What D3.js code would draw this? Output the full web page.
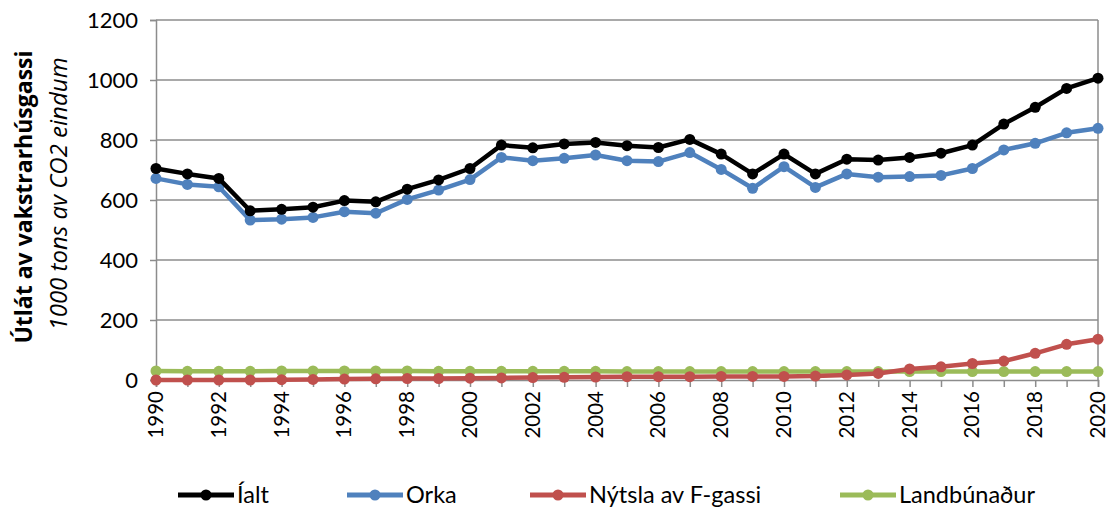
<!DOCTYPE html>
<html>
<head>
<meta charset="utf-8">
<script src="https://cdn.jsdelivr.net/npm/d3@7"></script>
<style>
  body { margin: 0; background: #fff; }
  svg { display: block; font-family: Lato, "Open Sans", sans-serif; }
</style>
</head>
<body>
<svg id="chart" width="1110" height="510"></svg>
<script>
// data
const years = d3.range(1990, 2021);
const ialt = [705, 687, 672, 564, 569, 576, 598, 594, 636, 667, 705, 783, 774, 787, 792, 781, 775, 802, 753, 687, 753, 687, 736, 733, 742, 756, 783, 853, 909, 972, 1006];
const orka = [672, 652, 644, 533, 536, 542, 561, 556, 602, 633, 668, 742, 731, 739, 750, 731, 728, 758, 702, 639, 711, 642, 687, 676, 678, 682, 705, 767, 789, 824, 839];
const fgas = [0, 0, 0, 0, 1, 2, 3, 4, 5, 5, 6, 7, 8, 9, 10, 11, 11, 11, 12, 12, 12, 13, 17, 22, 37, 44, 55, 63, 89, 119, 136];
const landb = [30, 29, 29, 29, 30, 30, 30, 30, 30, 29, 29, 29, 29, 29, 29, 28, 28, 28, 28, 28, 28, 28, 28, 28, 28, 28, 28, 28, 28, 28, 28];
const yTicks = [0, 200, 400, 600, 800, 1000, 1200];

const series = [
  {name: "Íalt", values: ialt, color: "#000000"},
  {name: "Orka", values: orka, color: "#4F81BD"},
  {name: "Nýtsla av F-gassi", values: fgas, color: "#C0504D"},
  {name: "Landbúnaður", values: landb, color: "#9BBB59"}
];

const svg = d3.select("#chart");
const m = {left: 156, right: 1098, top: 20, bottom: 380};

const x = d3.scaleLinear().domain([1990, 2020]).range([m.left, m.right]);
const y = d3.scaleLinear().domain([0, 1200]).range([m.bottom, m.top]);

// gridlines
svg.append("g")
  .selectAll("line")
  .data(yTicks.filter(d => d > 0))
  .join("line")
  .attr("x1", m.left).attr("x2", m.right)
  .attr("y1", d => y(d)).attr("y2", d => y(d))
  .attr("stroke", "#8c8c8c").attr("stroke-width", 1.5);

// right border
svg.append("line")
  .attr("x1", m.right).attr("x2", m.right).attr("y1", m.top).attr("y2", m.bottom)
  .attr("stroke", "#8c8c8c").attr("stroke-width", 1.5);

// y axis
const yAxis = svg.append("g")
  .attr("transform", `translate(${m.left},0)`)
  .call(d3.axisLeft(y).tickValues(yTicks).tickSize(6).tickPadding(12).tickFormat(d3.format("d")));
yAxis.select(".domain").attr("stroke", "#8c8c8c").attr("stroke-width", 1.5);
yAxis.selectAll(".tick line").attr("stroke", "#8c8c8c").attr("stroke-width", 1.5);
yAxis.selectAll("text").attr("font-size", 22).attr("fill", "#000")
  .attr("font-family", "Lato, sans-serif");

// x axis
const xAxis = svg.append("g")
  .attr("transform", `translate(0,${m.bottom})`)
  .call(d3.axisBottom(x).tickValues(years).tickSize(7).tickFormat(""));
xAxis.select(".domain").attr("stroke", "#8c8c8c").attr("stroke-width", 1.5);
xAxis.selectAll(".tick line").attr("stroke", "#8c8c8c").attr("stroke-width", 1.5);

svg.append("g")
  .selectAll("text")
  .data(years.filter(d => d % 2 === 0))
  .join("text")
  .attr("transform", d => `translate(${x(d) + 7},${m.bottom + 11}) rotate(-90)`)
  .attr("text-anchor", "end")
  .attr("font-size", 20.5)
  .attr("fill", "#000")
  .text(d => d);

// axis titles
svg.append("text")
  .attr("transform", "translate(32,197) rotate(-90)")
  .attr("text-anchor", "middle")
  .attr("font-family", "'Open Sans', sans-serif")
  .attr("font-weight", "bold")
  .attr("font-size", 23)
  .text("Útlát av vakstrarhúsgassi");
svg.append("text")
  .attr("transform", "translate(67,194) rotate(-90)")
  .attr("text-anchor", "middle")
  .attr("font-family", "'Open Sans', sans-serif")
  .attr("font-style", "italic")
  .attr("font-size", 24)
  .text("1000 tons av CO2 eindum");

// lines and markers, drawn bottom-up so Íalt sits on top
const line = d3.line().x((d, i) => x(years[i])).y(d => y(d));
series.slice().reverse().forEach(s => {
  const g = svg.append("g");
  g.append("path")
    .attr("d", line(s.values))
    .attr("fill", "none")
    .attr("stroke", s.color)
    .attr("stroke-width", 4.5)
    .attr("stroke-linejoin", "round");
  g.selectAll("circle")
    .data(s.values)
    .join("circle")
    .attr("cx", (d, i) => x(years[i]))
    .attr("cy", d => y(d))
    .attr("r", 5.5)
    .attr("fill", s.color);
});

// legend
const legendX = [178, 347, 530, 840];
const legend = svg.append("g");
series.forEach((s, i) => {
  const g = legend.append("g").attr("transform", `translate(${legendX[i]},495)`);
  g.append("line").attr("x1", 0).attr("x2", 56).attr("y1", 0).attr("y2", 0)
    .attr("stroke", s.color).attr("stroke-width", 5);
  g.append("circle").attr("cx", 28).attr("cy", 0).attr("r", 5.5).attr("fill", s.color);
  g.append("text").attr("x", 59).attr("y", 8)
    .attr("font-size", 23.5).attr("fill", "#000")
    .text(s.name);
});
</script>
</body>
</html>
